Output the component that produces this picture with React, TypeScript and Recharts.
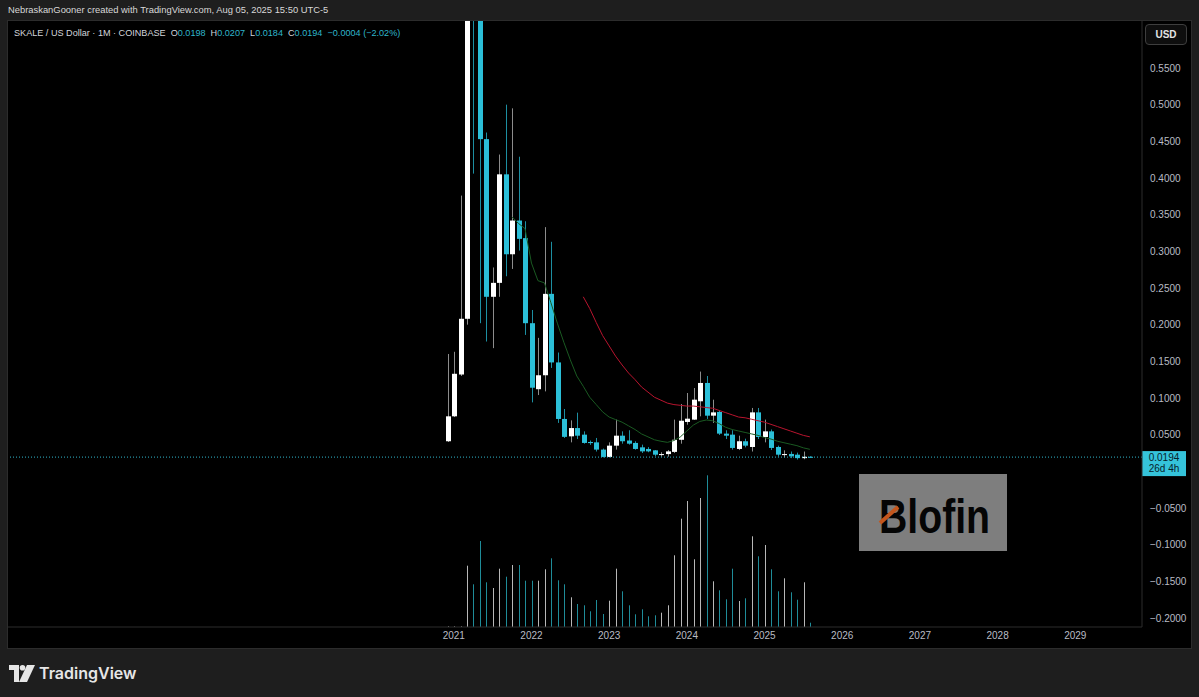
import React from 'react';
import { ComposedChart, Bar, Line, XAxis, YAxis, ReferenceLine } from 'recharts';

// monthly candles, SKL/USD on Coinbase
const months = [
  '2020-12',
  '2021-01', '2021-02', '2021-03', '2021-04', '2021-05', '2021-06', '2021-07', '2021-08', '2021-09', '2021-10', '2021-11', '2021-12',
  '2022-01', '2022-02', '2022-03', '2022-04', '2022-05', '2022-06', '2022-07', '2022-08', '2022-09', '2022-10', '2022-11', '2022-12',
  '2023-01', '2023-02', '2023-03', '2023-04', '2023-05', '2023-06', '2023-07', '2023-08', '2023-09', '2023-10', '2023-11', '2023-12',
  '2024-01', '2024-02', '2024-03', '2024-04', '2024-05', '2024-06', '2024-07', '2024-08', '2024-09', '2024-10', '2024-11', '2024-12',
  '2025-01', '2025-02', '2025-03', '2025-04', '2025-05', '2025-06', '2025-07', '2025-08',
];

const opens = [
  0.041, 0.075, 0.132, 0.208, 0.78, 0.66, 0.453, 0.238, 0.257, 0.405,
  0.296, 0.342, 0.318, 0.202, 0.112, 0.131, 0.242, 0.1485, 0.0714, 0.0477,
  0.059, 0.05, 0.04, 0.0395, 0.0296, 0.0196, 0.035, 0.0486, 0.042, 0.0387,
  0.0327, 0.0305, 0.0286, 0.0227, 0.0235, 0.0265, 0.043, 0.0673, 0.0705, 0.0955,
  0.1205, 0.0759, 0.081, 0.0514, 0.05, 0.0305, 0.041, 0.0332, 0.0804, 0.0468,
  0.0545, 0.0332, 0.0225, 0.0237, 0.0227, 0.018, 0.0198,
];
const highs = [
  0.16, 0.163, 0.376, 1.22, 0.95, 0.7, 0.462, 0.278, 0.432, 0.5,
  0.495, 0.429, 0.341, 0.22, 0.182, 0.333, 0.313, 0.162, 0.085, 0.0695,
  0.08, 0.0545, 0.042, 0.0455, 0.031, 0.0395, 0.0705, 0.0545, 0.056, 0.041,
  0.0364, 0.033, 0.029, 0.026, 0.029, 0.0705, 0.0918, 0.1068, 0.1136, 0.136,
  0.13, 0.0977, 0.083, 0.056, 0.056, 0.0486, 0.0445, 0.0864, 0.0864, 0.0705,
  0.057, 0.035, 0.0286, 0.027, 0.0255, 0.027, 0.0207,
];
const lows = [
  0.04, 0.074, 0.13, 0.2, 0.406, 0.202, 0.177, 0.168, 0.238, 0.266,
  0.276, 0.301, 0.186, 0.094, 0.104, 0.109, 0.141, 0.066, 0.0455, 0.0395,
  0.044, 0.0377, 0.036, 0.027, 0.019, 0.019, 0.0296, 0.0377, 0.0364, 0.0295,
  0.025, 0.026, 0.0205, 0.02, 0.02, 0.025, 0.0377, 0.0636, 0.07, 0.075,
  0.0714, 0.066, 0.0495, 0.044, 0.0296, 0.029, 0.0327, 0.027, 0.044, 0.0395,
  0.029, 0.02, 0.019, 0.018, 0.016, 0.0165, 0.0184,
];
const closes = [
  0.075, 0.133, 0.208, 0.78, 0.66, 0.453, 0.238, 0.257, 0.405, 0.296,
  0.342, 0.317, 0.202, 0.114, 0.131, 0.242, 0.1485, 0.0714, 0.047, 0.059,
  0.0486, 0.0387, 0.0385, 0.0296, 0.0196, 0.035, 0.0486, 0.041, 0.0377, 0.0305,
  0.0272, 0.0272, 0.0227, 0.0235, 0.0272, 0.043, 0.069, 0.0718, 0.0977, 0.1205,
  0.0759, 0.0804, 0.0514, 0.0486, 0.0319, 0.041, 0.035, 0.0804, 0.0468, 0.0545,
  0.0319, 0.0227, 0.0235, 0.0204, 0.018, 0.0198, 0.0194,
];
// volume, millions (relative)
const volumes = [
  0.7, 0.7, 0.7, 61.3, 42.7, 86, 44.7, 39, 58.3, 50.3,
  62, 62, 46.3, 46.3, 46.3, 57.7, 68.7, 46.7, 42.7, 29.7,
  23, 21.7, 15.7, 27, 13, 26.3, 58.3, 35.7, 21.7, 12.7,
  17.7, 10.7, 11.7, 14.3, 21.7, 71.7, 108.3, 126, 67.7, 129,
  151.7, 45.7, 36.7, 27.7, 58.3, 26, 28.7, 90.7, 70.7, 82,
  57.7, 35.7, 48.7, 34.7, 27.3, 44.7, 4.3,
];
// green (fast) and red (slow) moving averages as drawn
const maFast = [
  null, null, null, null, null, null, null, null, null, null,
  0.347, 0.338, 0.331, 0.284, 0.26, 0.257, 0.23, 0.202, 0.176, 0.152,
  0.13, 0.116, 0.101, 0.091, 0.081, 0.074, 0.0705, 0.067, 0.062, 0.057,
  0.051, 0.047, 0.043, 0.041, 0.0395, 0.042, 0.047, 0.055, 0.063, 0.068,
  0.07, 0.069, 0.065, 0.06, 0.057, 0.055, 0.053, 0.051, 0.049, 0.046,
  0.044, 0.041, 0.039, 0.037, 0.035, 0.032, 0.03,
];
const maSlow = [
  null, null, null, null, null, null, null, null, null, null,
  null, null, null, null, null, null, null, null, null, null,
  null, 0.238, 0.222, 0.203, 0.185, 0.171, 0.157, 0.145, 0.134, 0.125,
  0.115, 0.108, 0.101, 0.097, 0.093, 0.091, 0.09, 0.089, 0.089, 0.088,
  0.087, 0.086, 0.083, 0.08, 0.077, 0.074, 0.073, 0.071, 0.069, 0.067,
  0.064, 0.061, 0.058, 0.055, 0.052, 0.049, 0.047,
];

const yearTicks = [1, 13, 25, 37, 49, 61, 73, 85, 97];
const yearLabels = ['2021', '2022', '2023', '2024', '2025', '2026', '2027', '2028', '2029'];
const priceTicks = [-0.2, -0.15, -0.1, -0.05, 0.05, 0.1, 0.15, 0.2, 0.25, 0.3, 0.35, 0.4, 0.45, 0.5, 0.55];
const lastPrice = 0.0194;

const UP = '#ffffff';
const DOWN = '#2bbfd8';
const WICK_UP = '#8c8c8c';
const WICK_DOWN = '#1d8fa2';
const VOL_UP = '#b8b8b8';
const VOL_DOWN = '#1f8c99';
const TEAL = '#2fb6cc';
const AXIS_TXT = '#b9bcc4';

const data = months.map((m, i) => ({
  i,
  month: m,
  open: opens[i],
  high: highs[i],
  low: lows[i],
  close: closes[i],
  vol: volumes[i],
  maFast: maFast[i],
  maSlow: maSlow[i],
}));

function Candle(props: any) {
  const { x, y, width, height, payload } = props;
  const { open, close, high, low } = payload;
  const up = close >= open;
  const k = height / (high - low);
  const cx = Math.round(x + width / 2) + 0.5;
  const top = y + (high - Math.max(open, close)) * k;
  const bot = y + (high - Math.min(open, close)) * k;
  return (
    <g>
      <line x1={cx} x2={cx} y1={y} y2={y + height} stroke={up ? WICK_UP : WICK_DOWN} strokeWidth={1} />
      <rect x={cx - 2.5} y={top} width={5} height={Math.max(1, bot - top)} fill={up ? UP : DOWN} />
    </g>
  );
}

function VolumeBar(props: any) {
  const { x, y, width, height, payload } = props;
  const cx = Math.round(x + width / 2) + 0.5;
  const up = payload.close >= payload.open;
  return <line x1={cx} x2={cx} y1={y} y2={y + height} stroke={up ? VOL_UP : VOL_DOWN} strokeWidth={1} />;
}

function PriceTag(props: any) {
  const { viewBox } = props;
  const x = viewBox.x + viewBox.width;
  const y = viewBox.y;
  return (
    <g>
      <rect x={x} y={y - 6} width={44} height={25} fill="#35c3da" />
      <text x={x + 22} y={y + 4} textAnchor="middle" fontSize={10} fill="#06222a" fontFamily="Liberation Sans, Arial">
        {lastPrice.toFixed(4)}
      </text>
      <text x={x + 22} y={y + 15} textAnchor="middle" fontSize={10} fill="#06222a" fontFamily="Liberation Sans, Arial">
        26d 4h
      </text>
    </g>
  );
}

const fmtPrice = (v: number) => (v < 0 ? '\u2212' + Math.abs(v).toFixed(4) : v.toFixed(4));

function TvLogo() {
  return (
    <svg width={26} height={18} style={{ position: 'absolute', left: 9, top: 665 }}>
      <path d="M0 0 H10 V17 H5 V5 H0 Z" fill="#e6e6e6" />
      <circle cx={13.5} cy={2.8} r={2.8} fill="#e6e6e6" />
      <path d="M18 0 H26 L18 17 H10 Z" fill="#e6e6e6" />
    </svg>
  );
}

export default function App() {
  const legendVal = { color: TEAL };
  return (
    <div
      style={{
        position: 'absolute',
        left: 0,
        top: 0,
        width: 1199,
        height: 697,
        background: '#1e1e1e',
        overflow: 'hidden',
        fontFamily: 'Liberation Sans, Arial, sans-serif',
      }}
    >
      <div style={{ position: 'absolute', left: 8, top: 3, fontSize: 9.4, lineHeight: '14px', color: '#d8d8d8', whiteSpace: 'nowrap' }}>
        NebraskanGooner created with TradingView.com, Aug 05, 2025 15:50 UTC-5
      </div>

      <div
        style={{
          position: 'absolute',
          left: 7,
          top: 20,
          width: 1185,
          height: 629,
          boxSizing: 'border-box',
          border: '1px solid #2c2c2c',
          background: '#000',
        }}
      >
        <div style={{ position: 'absolute', left: 0, top: 0 }}>
          <ComposedChart width={1183} height={627} data={data} margin={{ top: 0, right: 0, bottom: 0, left: 0 }}>
            <XAxis
              xAxisId="p"
              dataKey="i"
              type="number"
              domain={[-67.85, 107.3]}
              allowDataOverflow
              ticks={yearTicks}
              interval={0}
              tickFormatter={(v: number) => yearLabels[yearTicks.indexOf(v)] ?? ''}
              height={21}
              axisLine={{ stroke: '#2c2c2c' }}
              tickLine={false}
              tickSize={3}
              tick={{ fill: AXIS_TXT, fontSize: 10 }}
            />
            <XAxis xAxisId="v" dataKey="i" type="number" domain={[-67.85, 107.3]} allowDataOverflow hide />
            <YAxis
              yAxisId="price"
              orientation="right"
              width={49}
              domain={[-0.2123, 0.6141]}
              allowDataOverflow
              ticks={priceTicks}
              interval={0}
              tickFormatter={fmtPrice}
              axisLine={{ stroke: '#2c2c2c' }}
              tickLine={false}
              tick={{ fill: AXIS_TXT, fontSize: 10 }}
            />
            <YAxis yAxisId="vol" domain={[0, 606]} hide />

            <Bar
              xAxisId="v"
              yAxisId="vol"
              dataKey="vol"
              barSize={1}
              shape={<VolumeBar />}
              isAnimationActive={false}
            />
            <ReferenceLine
              xAxisId="p"
              yAxisId="price"
              y={lastPrice}
              stroke={TEAL}
              strokeDasharray="1 2"
              label={<PriceTag />}
            />
            <Line
              xAxisId="p"
              yAxisId="price"
              dataKey="maFast"
              stroke="#1a5a22"
              strokeWidth={1}
              dot={false}
              activeDot={false}
              type="linear"
              isAnimationActive={false}
            />
            <Line
              xAxisId="p"
              yAxisId="price"
              dataKey="maSlow"
              stroke="#b8142e"
              strokeWidth={1}
              dot={false}
              activeDot={false}
              type="linear"
              isAnimationActive={false}
            />
            <Bar
              xAxisId="p"
              yAxisId="price"
              dataKey={(d: any) => [d.low, d.high]}
              barSize={5}
              shape={<Candle />}
              isAnimationActive={false}
            />
          </ComposedChart>
        </div>

        <div style={{ position: 'absolute', left: 6, top: 5, fontSize: 9.1, lineHeight: '14px', color: '#d3d5db', whiteSpace: 'nowrap' }}>
          SKALE / US Dollar · 1M · COINBASE&nbsp;&nbsp;O<span style={legendVal}>0.0198</span>&nbsp;&nbsp;H
          <span style={legendVal}>0.0207</span>&nbsp;&nbsp;L<span style={legendVal}>0.0184</span>&nbsp;&nbsp;C
          <span style={legendVal}>0.0194</span>&nbsp;&nbsp;<span style={legendVal}>−0.0004 (−2.02%)</span>
        </div>

        <div
          style={{
            position: 'absolute',
            left: 1137,
            top: 3,
            width: 42,
            height: 21,
            boxSizing: 'border-box',
            border: '1px solid #3e3e3e',
            borderRadius: 4,
            background: '#0e0e0e',
            color: '#e4e4e4',
            fontSize: 10,
            fontWeight: 'bold',
            lineHeight: '19px',
            textAlign: 'center',
          }}
        >
          USD
        </div>

        <svg width={148} height={77} style={{ position: 'absolute', left: 851, top: 453, overflow: 'visible' }}>
          <rect x={0} y={0} width={148} height={77} fill="#7e7e7e" />
          <g transform="translate(20 58.5) scale(0.8 1)">
            <text x={0} y={0} fontSize={49} fontWeight="bold" fill="#050505" fontFamily="Liberation Sans, Arial">
              Blofin
            </text>
          </g>
          <line x1={21} y1={49} x2={39} y2={33} stroke="#c4561c" strokeWidth={4} />
        </svg>
      </div>

      <TvLogo />
      <div
        style={{
          position: 'absolute',
          left: 39,
          top: 662,
          fontSize: 16,
          fontWeight: 600,
          fontFamily: 'Inter, Liberation Sans, sans-serif',
          color: '#e6e6e6',
          lineHeight: '22px',
          whiteSpace: 'nowrap',
        }}
      >
        TradingView
      </div>
    </div>
  );
}
